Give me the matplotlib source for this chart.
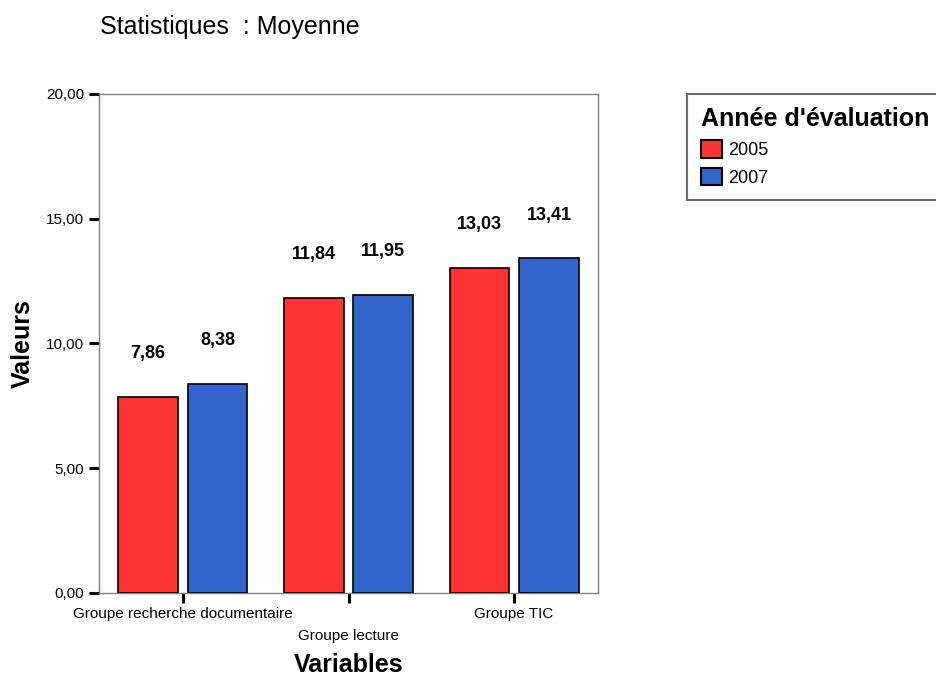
import matplotlib.pyplot as plt
import numpy as np
from matplotlib.patches import Patch

plt.rcParams['font.family'] = ['Liberation Sans', 'DejaVu Sans']

categories = ['Groupe recherche documentaire', 'Groupe lecture', 'Groupe TIC']
years = ['2005', '2007']
vals_2005 = [7.86, 11.84, 13.03]
vals_2007 = [8.38, 11.95, 13.41]
colors = ['#ff3333', '#3366cc']
yticks = [0, 5, 10, 15, 20]

fig = plt.figure(figsize=(9.36, 6.79), dpi=100)
ax = fig.add_axes([0.1058, 0.1267, 0.5331, 0.7349])

x = np.arange(len(categories))
w = 0.36
off = 0.21
for vals, col, dx in [(vals_2005, colors[0], -off), (vals_2007, colors[1], off)]:
    bars = ax.bar(x + dx, vals, width=w, color=col, edgecolor='black', linewidth=1.2, zorder=3)
    for b, v in zip(bars, vals):
        ax.annotate(f"{v:.2f}".replace('.', ','), (b.get_x() + b.get_width() / 2, v),
                    xytext=(0, 31), textcoords='offset points', ha='center', va='center',
                    fontsize=13, fontweight='bold')

ax.set_xlim(-0.506, 2.506)
ax.set_ylim(0, 20)
ax.set_yticks(yticks)
ax.set_yticklabels([f"{t:.2f}".replace('.', ',') for t in yticks], fontsize=11)
ax.set_xticks(x)
ax.set_xticklabels(categories, fontsize=11)
# middle label sits one row lower
for i, lab in enumerate(ax.get_xticklabels()):
    if i == 1:
        lab.set_y(-0.044)
ax.tick_params(axis='y', length=7.2, width=2.2, direction='out', pad=3.6)
ax.tick_params(axis='x', length=7.2, width=2.2, direction='out', pad=3)
for s in ax.spines.values():
    s.set_color('#808080')
    s.set_linewidth(1.0)

ax.set_ylabel('Valeurs', fontsize=18, fontweight='bold', va='center')
ax.yaxis.set_label_coords(-0.152, 0.5)
ax.set_xlabel('Variables', fontsize=18, fontweight='bold', va='center')
ax.xaxis.set_label_coords(0.5, -0.144)

fig.text(0.107, 0.960, 'Statistiques  : Moyenne', fontsize=18, va='center', ha='left')

handles = [Patch(facecolor=c, edgecolor='black', linewidth=1.5, label=y) for c, y in zip(colors, years)]
leg = fig.legend(handles=handles, title="Année d'évaluation", loc='upper left',
                 bbox_to_anchor=(0.734, 0.862), fontsize=13, frameon=True, fancybox=False,
                 handlelength=1.2, handleheight=1.1, handletextpad=0.35, labelspacing=0.5,
                 borderpad=0.75, borderaxespad=0, alignment='left',
                 title_fontproperties={'weight': 'bold', 'size': 18})
leg.get_frame().set_edgecolor('#444444')
leg.get_frame().set_linewidth(1.5)

fig.savefig('out.png', dpi=100)
